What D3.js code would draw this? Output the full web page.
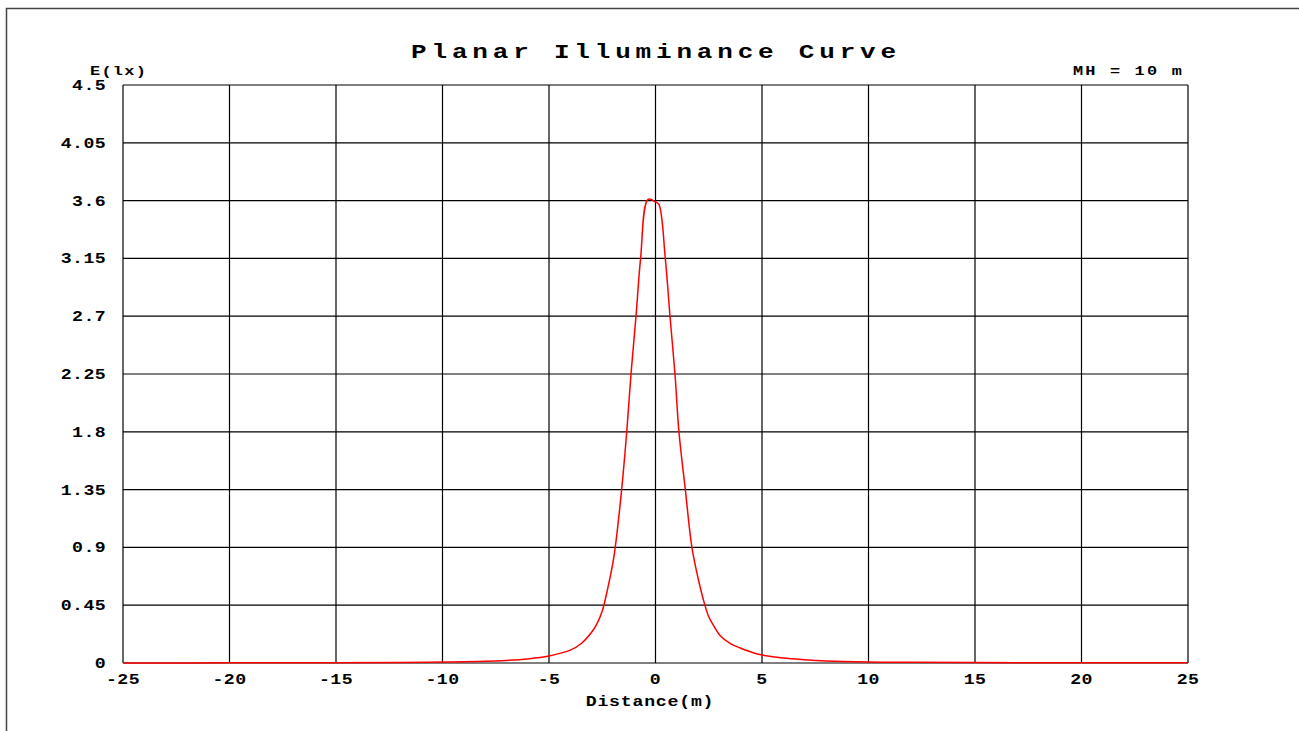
<!doctype html>
<html>
<head>
<meta charset="utf-8">
<script src="https://d3js.org/d3.v7.min.js"></script>
<style>
  body { margin: 0; background: #fff; }
  text { font-family: "Liberation Mono", "Courier New", monospace; font-weight: bold; fill: #000; }
</style>
</head>
<body>
<svg width="1299" height="731"></svg>
<script>
// distance (m) and planar illuminance E (lx)
var distance = [-25, -20, -15, -12, -10, -8, -7, -6, -5, -4.5, -4, -3.5, -3, -2.75, -2.5, -2.25, -2.0,
                -1.89, -1.59, -1.35, -1.15, -0.915, -0.7, -0.35, 0, 0.16, 0.46, 0.68, 0.915, 1.1,
                1.4, 1.71, 2.0, 2.32, 2.5, 2.75, 3.05, 3.5, 4, 4.5, 5, 6, 7, 8, 10, 12, 15, 20, 25];
var illum = [0.0005, 0.001, 0.002, 0.004, 0.007, 0.013, 0.02, 0.032, 0.054, 0.075, 0.1, 0.15, 0.24, 0.305, 0.405, 0.575, 0.78,
             0.9, 1.35, 1.8, 2.25, 2.7, 3.15, 3.61, 3.59, 3.57, 3.15, 2.7, 2.25, 1.8,
             1.35, 0.9, 0.66, 0.45, 0.36, 0.285, 0.21, 0.153, 0.115, 0.085, 0.062, 0.038, 0.025, 0.016, 0.008, 0.005, 0.003, 0.0015, 0.001];

var xTicks = [-25, -20, -15, -10, -5, 0, 5, 10, 15, 20, 25];
var yTicks = [0, 0.45, 0.9, 1.35, 1.8, 2.25, 2.7, 3.15, 3.6, 4.05, 4.5];

var svg = d3.select("svg");

var plotL = 123, plotR = 1188, plotT = 85, plotB = 663;

var x = d3.scaleLinear().domain([-25, 25]).range([plotL, plotR]);
var y = d3.scaleLinear().domain([0, 4.5]).range([plotB, plotT]);

// wide courier-ish text: stretched horizontally
function label(g, tx, ty, str, size, spacing, anchor) {
    return g.append("text")
        .attr("transform", "translate(" + tx + "," + ty + ") scale(1.3,1)")
        .attr("text-anchor", anchor || "start")
        .attr("font-size", size + "px")
        .attr("letter-spacing", spacing + "px")
        .text(str);
}

// outer frame (runs off the page at right and bottom)
svg.append("path")
    .attr("d", "M6.5,731 V8.5 H1299")
    .attr("fill", "none")
    .attr("stroke", "#444")
    .attr("stroke-width", 1.5);

// title
label(svg, 656, 58, "Planar Illuminance Curve", 20, 3.7, "middle");
label(svg, 90, 75, "E(lx)", 13, 1.0);
label(svg, 1184, 75, "MH = 10 m", 13, 1.7, "end");

// grid
var grid = svg.append("g").attr("stroke", "#000").attr("stroke-width", 1.2);

grid.selectAll(".vx")
    .data(xTicks)
    .enter().append("line")
    .attr("x1", function(d) { return x(d); })
    .attr("x2", function(d) { return x(d); })
    .attr("y1", plotT)
    .attr("y2", plotB);

grid.selectAll(".hy")
    .data(yTicks)
    .enter().append("line")
    .attr("x1", plotL)
    .attr("x2", plotR)
    .attr("y1", function(d) { return y(d); })
    .attr("y2", function(d) { return y(d); });

// x tick labels
svg.append("g").selectAll("text")
    .data(xTicks)
    .enter().append("text")
    .attr("transform", function(d) { return "translate(" + x(d) + "," + (plotB + 21) + ") scale(1.3,1)"; })
    .attr("text-anchor", "middle")
    .attr("font-size", "14px")
    .attr("letter-spacing", "0.3px")
    .text(function(d) { return d < 0 ? "-" + Math.abs(d) : String(d); });

// y tick labels
svg.append("g").selectAll("text")
    .data(yTicks)
    .enter().append("text")
    .attr("transform", function(d) { return "translate(" + 106 + "," + (y(d) + 5) + ") scale(1.3,1)"; })
    .attr("text-anchor", "end")
    .attr("font-size", "14px")
    .attr("letter-spacing", "0.3px")
    .text(function(d) { return String(d); });

label(svg, 650, 706, "Distance(m)", 14, 0.6, "middle");

// curve
var pts = distance.map(function(d, i) { return [d, illum[i]]; });
svg.append("path")
    .datum(pts)
    .attr("fill", "none")
    .attr("stroke", "#ff0000")
    .attr("stroke-width", 1.5)
    .attr("d", d3.line()
        .curve(d3.curveCatmullRom.alpha(0.5))
        .x(function(d) { return x(d[0]); })
        .y(function(d) { return y(d[1]); }));
</script>
</body>
</html>
